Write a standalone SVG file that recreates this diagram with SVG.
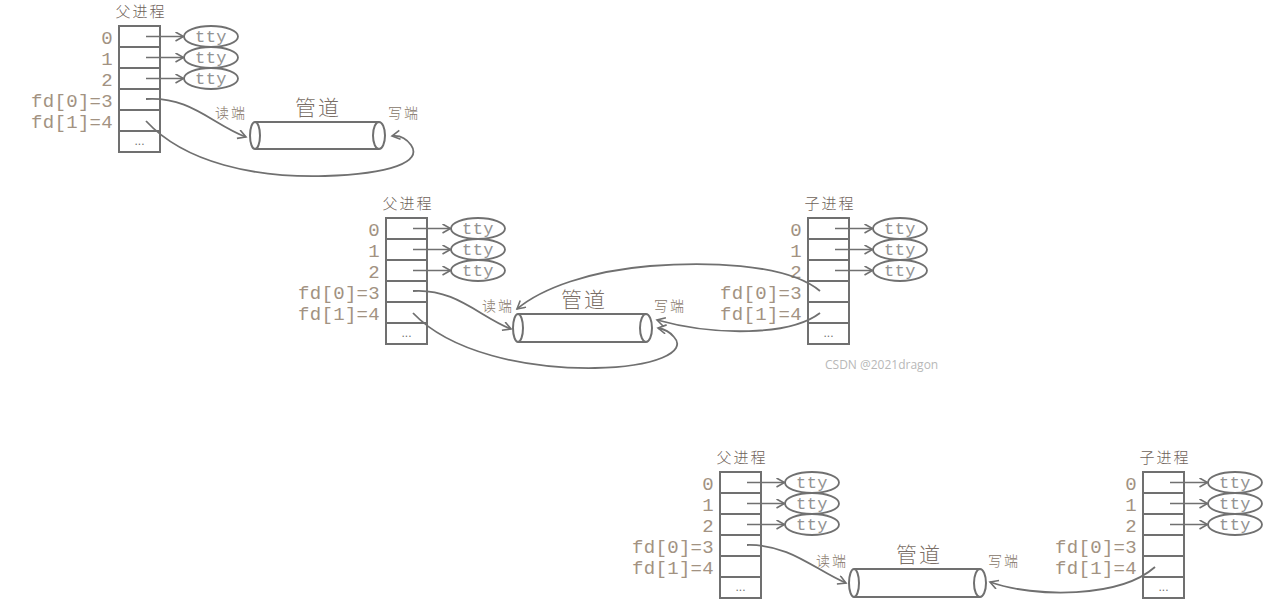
<svg xmlns="http://www.w3.org/2000/svg" width="1280" height="603" viewBox="0 0 1280 603">
<defs>
<style>
.bg{fill:#ffffff}
.tbl{fill:none;stroke:#707070;stroke-width:2}
.ln{fill:none;stroke:#707070;stroke-width:1.6}
.tty{fill:#ffffff;stroke:#707070;stroke-width:1.8}
.pipe{fill:#ffffff;stroke:#707070;stroke-width:2}
.conn{fill:none;stroke:#707070;stroke-width:1.8}
.num{font-family:"Liberation Mono","DejaVu Sans Mono",monospace;font-size:19px;fill:#a29282;letter-spacing:0.3px;text-anchor:end}
.ttyt{font-family:"Liberation Mono","DejaVu Sans Mono",monospace;font-size:17px;fill:#939393;letter-spacing:0.5px;text-anchor:middle}
.dots{font-family:"Liberation Sans",sans-serif;font-size:12px;fill:#707070;text-anchor:middle}
.title{font-family:"Noto Sans CJK SC",sans-serif;font-size:15px;font-weight:300;fill:#6e6259;letter-spacing:2px;text-anchor:middle}
.end{font-family:"Noto Sans CJK SC",sans-serif;font-size:14px;font-weight:300;fill:#857567;letter-spacing:2px;text-anchor:middle}
.pname{font-family:"Noto Sans CJK SC",sans-serif;font-size:21px;font-weight:300;fill:#7a6e66;letter-spacing:2px;text-anchor:middle}
.wm{font-family:"Open Sans","Liberation Sans",sans-serif;font-size:12px;fill:#b8b8b8}
</style>
<marker id="arr" markerUnits="userSpaceOnUse" markerWidth="12" markerHeight="12" refX="9" refY="5" orient="auto">
<path d="M1,0.5 L9,5 L1,9.5" fill="none" stroke="#707070" stroke-width="1.6"/>
</marker>
<g id="tableShape">
<rect class="tbl" x="0" y="0" width="41" height="126"/>
<path class="tbl" d="M0,21H41M0,42H41M0,63H41M0,84H41M0,105H41"/>
<text class="dots" x="20.5" y="119">...</text>
</g>
<g id="labels">
<text class="num" x="-6" y="17.5">0</text>
<text class="num" x="-6" y="38.5">1</text>
<text class="num" x="-6" y="59.5">2</text>
<text class="num" x="-6" y="80.5">fd[0]=3</text>
<text class="num" x="-6" y="101.5">fd[1]=4</text>
</g>
<g id="ttys">
<ellipse class="tty" cx="92" cy="10.5" rx="27" ry="10.5"/>
<text class="ttyt" x="92" y="15.5">tty</text>
<ellipse class="tty" cx="92" cy="31.5" rx="27" ry="10.5"/>
<text class="ttyt" x="92" y="36.5">tty</text>
<ellipse class="tty" cx="92" cy="52.5" rx="27" ry="10.5"/>
<text class="ttyt" x="92" y="57.5">tty</text>
</g>
<g id="ttyArrows">
<path class="ln" d="M27,10.5H64.5" marker-end="url(#arr)"/>
<path class="ln" d="M27,31.5H64.5" marker-end="url(#arr)"/>
<path class="ln" d="M27,52.5H64.5" marker-end="url(#arr)"/>
</g>
</defs>
<rect class="bg" x="0" y="0" width="1280" height="603"/>

<!-- Top: parent only -->
<g id="top-parent" transform="translate(119,26)">
<text class="title" x="22" y="-9">父进程</text>
<use href="#tableShape"/>
<use href="#labels"/>
<use href="#ttys"/>
</g>
<g id="top-pipe">
<path class="pipe" d="M255,122H379M255,149H379"/>
<ellipse class="pipe" cx="255" cy="135.5" rx="5" ry="13.5"/>
<ellipse class="pipe" cx="379" cy="135.5" rx="6" ry="13.5"/>
<text class="pname" x="318" y="115">管道</text>
<text class="end" x="231" y="118">读端</text>
<text class="end" x="404" y="118">写端</text>
</g>

<!-- Middle: parent + child -->
<g id="mid-parent" transform="translate(386,218)">
<text class="title" x="22" y="-9">父进程</text>
<use href="#tableShape"/>
<use href="#labels"/>
<use href="#ttys"/>
</g>
<g id="mid-child" transform="translate(808,218)">
<text class="title" x="22" y="-9">子进程</text>
<use href="#tableShape"/>
<use href="#labels"/>
<use href="#ttys"/>
</g>
<g id="mid-pipe">
<path class="pipe" d="M518,314H646M518,342H646"/>
<ellipse class="pipe" cx="518" cy="328" rx="5" ry="14"/>
<ellipse class="pipe" cx="646" cy="328" rx="6" ry="14"/>
<text class="pname" x="584" y="307">管道</text>
<text class="end" x="498" y="311">读端</text>
<text class="end" x="670" y="311">写端</text>
</g>

<!-- Bottom: parent + child -->
<g id="bot-parent" transform="translate(720,472)">
<text class="title" x="22" y="-9">父进程</text>
<use href="#tableShape"/>
<use href="#labels"/>
<use href="#ttys"/>
</g>
<g id="bot-child" transform="translate(1143,472)">
<text class="title" x="22" y="-9">子进程</text>
<use href="#tableShape"/>
<use href="#labels"/>
<use href="#ttys"/>
</g>
<g id="bot-pipe">
<path class="pipe" d="M854,569H980M854,597H980"/>
<ellipse class="pipe" cx="854" cy="583" rx="5" ry="14"/>
<ellipse class="pipe" cx="980" cy="583" rx="6" ry="14"/>
<text class="pname" x="919" y="562">管道</text>
<text class="end" x="832" y="566">读端</text>
<text class="end" x="1004" y="566">写端</text>
</g>

<g id="connectors">
<use href="#ttyArrows" transform="translate(119,26)"/>
<use href="#ttyArrows" transform="translate(386,218)"/>
<use href="#ttyArrows" transform="translate(808,218)"/>
<use href="#ttyArrows" transform="translate(720,472)"/>
<use href="#ttyArrows" transform="translate(1143,472)"/>
<!-- top -->
<path class="conn" d="M146,99 C190,96 212,124 246,137" marker-end="url(#arr)"/>
<path class="conn" d="M146,121 C185,163 255,178 325,176 C390,174 423,162 411,145 C406,138 399,135 392,136" marker-end="url(#arr)"/>
<!-- middle -->
<path class="conn" d="M413,291 C455,288 480,317 511,329" marker-end="url(#arr)"/>
<path class="conn" d="M413,313 C450,352 525,369 595,368 C655,367 688,352 674,337 C670,332 664,329 658,328" marker-end="url(#arr)"/>
<path class="conn" d="M820,291 C785,262 700,262 650,266 C590,271 542,288 517,309" marker-end="url(#arr)"/>
<path class="conn" d="M820,313 C790,336 715,336 657,320" marker-end="url(#arr)"/>
<!-- bottom -->
<path class="conn" d="M747,545 C790,544 815,570 846,583" marker-end="url(#arr)"/>
<path class="conn" d="M1155,567 C1120,598 1035,598 990,582" marker-end="url(#arr)"/>
</g>

<text class="wm" x="825" y="369">CSDN @2021dragon</text>
</svg>
